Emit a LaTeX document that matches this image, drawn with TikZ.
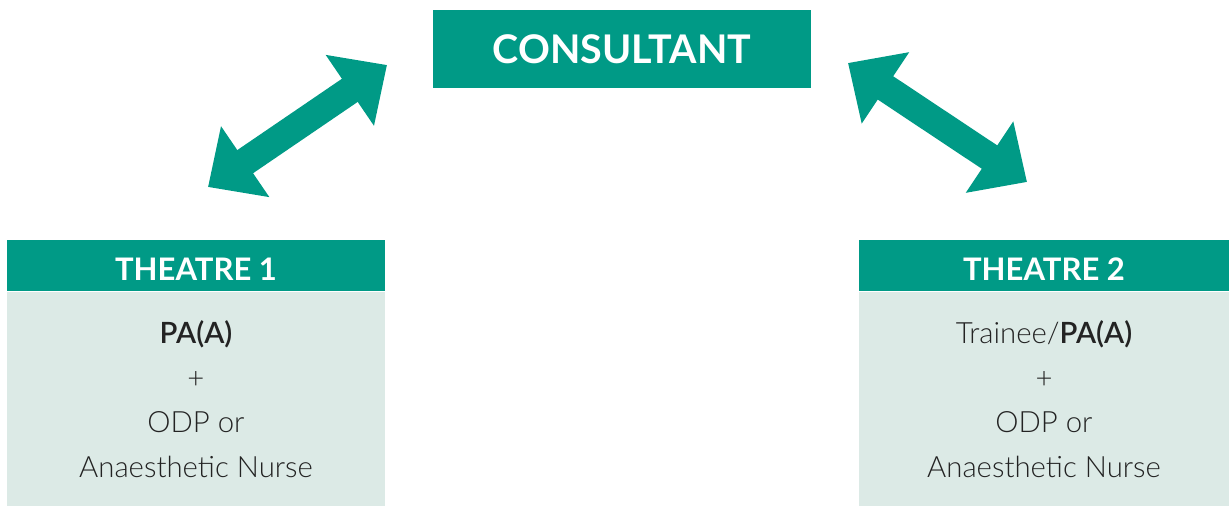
\documentclass[tikz,border=0pt]{standalone}
\usepackage{fontspec}
\setmainfont{Lato}[UprightFont=* Light, BoldFont=* Semibold]
\newfontfamily\headfont{Lato}[UprightFont=* Bold]
\usetikzlibrary{arrows.meta,positioning}
\definecolor{teal1}{RGB}{0,154,134}
\definecolor{mint1}{RGB}{220,234,230}
\definecolor{ink1}{RGB}{35,35,35}

\begin{document}
\begin{tikzpicture}[x=0.75pt, y=-0.75pt,
head/.style={fill=teal1, text=white, inner sep=0pt, font=\fontsize{23.3}{28}\selectfont\headfont},
body/.style={fill=mint1, text=ink1, inner sep=0pt, align=center, font=\fontsize{22}{33.4}\selectfont},
arr/.style={teal1, line width=21pt, {Triangle[length=33.75pt,width=62.25pt]}-{Triangle[length=33.75pt,width=62.25pt]}}
]
\useasboundingbox (0,0) rectangle (1229,506);
%Nodes
\node[head, minimum width=283.5pt, minimum height=58.5pt, font=\fontsize{29.6}{36}\selectfont\headfont] (cons) at (622,49) {CONSULTANT};
\node[head, minimum width=283.5pt, minimum height=38.25pt] (th1) at (196,265.5) {\raisebox{-11.4pt}[0pt][0pt]{THEATRE 1}};
\node[body, minimum width=283.5pt, minimum height=161.25pt, below=0pt of th1] (th1b) {\textbf{PA(A)}\\+\\ODP or\\Anaesthetic Nurse};
\node[head, minimum width=277.5pt, minimum height=38.25pt] (th2) at (1044,265.5) {\raisebox{-11.4pt}[0pt][0pt]{THEATRE 2}};
\node[body, minimum width=277.5pt, minimum height=161.25pt, below=0pt of th2] (th2b) {Trainee/\textbf{PA(A)}\\+\\ODP or\\Anaesthetic Nurse};
%Arrow ends
\coordinate (a1) at (208,187);
\coordinate (a2) at (387,65);
\coordinate (b1) at (848,63);
\coordinate (b2) at (1027,182);
%Lines
\draw[arr] (a1) -- (a2);
\draw[arr] (b1) -- (b2);
\end{tikzpicture}
\end{document}
